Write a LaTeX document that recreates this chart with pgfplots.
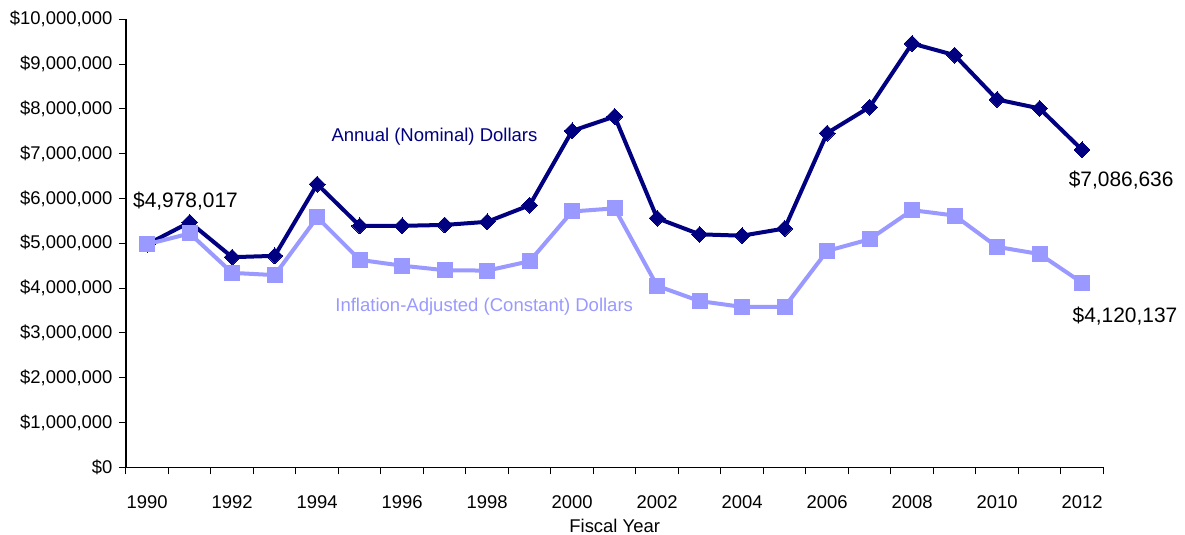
\documentclass[border=0pt]{standalone}
\usepackage{fontspec}
\setmainfont{Liberation Sans}
\usepackage{pgfplots}
\pgfplotsset{compat=1.18}
\definecolor{navyline}{RGB}{0,0,128}
\definecolor{lightline}{RGB}{153,153,255}
\begin{document}
\begin{tikzpicture}
\begin{axis}[
  at={(0,0)}, anchor=south west,
  scale only axis,
  width=977.3bp, height=448bp,
  clip=false,
  xmin=-0.5, xmax=22.5,
  ymin=0, ymax=10000000,
  axis x line*=bottom, axis y line*=left,
  axis line style={-, line width=1.2bp, black},
  scaled y ticks=false,
  tick align=outside,
  ytick={0,1000000,2000000,3000000,4000000,5000000,6000000,7000000,8000000,9000000,10000000},
  yticklabels={\$0,{\$1,000,000},{\$2,000,000},{\$3,000,000},{\$4,000,000},{\$5,000,000},{\$6,000,000},{\$7,000,000},{\$8,000,000},{\$9,000,000},{\$10,000,000}},
  xtick={0,2,4,6,8,10,12,14,16,18,20,22},
  xticklabels={1990,1992,1994,1996,1998,2000,2002,2004,2006,2008,2010,2012},
  minor xtick={-0.5,0.5,1.5,2.5,3.5,4.5,5.5,6.5,7.5,8.5,9.5,10.5,11.5,12.5,13.5,14.5,15.5,16.5,17.5,18.5,19.5,20.5,21.5,22.5},
  major x tick style={draw=none},
  minor x tick style={line width=1bp, black},
  minor tick length=7bp,
  y tick style={line width=1bp, black},
  major tick length=7bp,
  ticklabel style={font=\fontsize{18.5}{22}\selectfont, text=black},
  yticklabel style={xshift=-3bp},
  xticklabel style={anchor=base, yshift=-34.4bp},
  xlabel={Fiscal Year},
  xlabel style={at={(axis description cs:0.5,0)}, anchor=base, yshift=-64.7bp, font=\fontsize{18.5}{22}\selectfont},
]
\addplot[color=navyline, line width=4bp, mark=square*, mark size=5.6bp,
  mark options={rotate=45, line width=0pt, fill=navyline, draw=navyline}]
coordinates {
(0,4978017) (1,5470000) (2,4690000) (3,4720000) (4,6320000) (5,5390000)
(6,5390000) (7,5410000) (8,5480000) (9,5850000) (10,7510000) (11,7830000)
(12,5560000) (13,5200000) (14,5170000) (15,5330000) (16,7460000) (17,8040000)
(18,9460000) (19,9200000) (20,8210000) (21,8010000) (22,7086636)
};
\addplot[color=lightline, line width=4bp, mark=square*, mark size=7.5bp,
  mark options={line width=0pt, fill=lightline, draw=lightline}]
coordinates {
(0,4978017) (1,5220000) (2,4340000) (3,4290000) (4,5580000) (5,4630000)
(6,4500000) (7,4400000) (8,4390000) (9,4600000) (10,5710000) (11,5780000)
(12,4050000) (13,3710000) (14,3580000) (15,3580000) (16,4830000) (17,5090000)
(18,5740000) (19,5620000) (20,4920000) (21,4760000) (22,4120137)
};
\node[anchor=base, font=\fontsize{21}{25}\selectfont] at (axis cs:0.90,5788000) {\$4,978,017};
\node[anchor=base, font=\fontsize{21}{25}\selectfont] at (axis cs:22.92,6257000) {\$7,086,636};
\node[anchor=base, font=\fontsize{21}{25}\selectfont] at (axis cs:23.01,3243000) {\$4,120,137};
\node[anchor=base, text=navyline, font=\fontsize{18.6}{22}\selectfont] at (axis cs:6.76,7283000) {Annual (Nominal) Dollars};
\node[anchor=base, text=lightline, font=\fontsize{18.6}{22}\selectfont] at (axis cs:7.93,3473000) {Inflation-Adjusted (Constant) Dollars};
\end{axis}
\pgfresetboundingbox
\path[use as bounding box] (-126bp,-67.7bp) rectangle (1059bp,467.3bp);
\end{tikzpicture}
\end{document}
